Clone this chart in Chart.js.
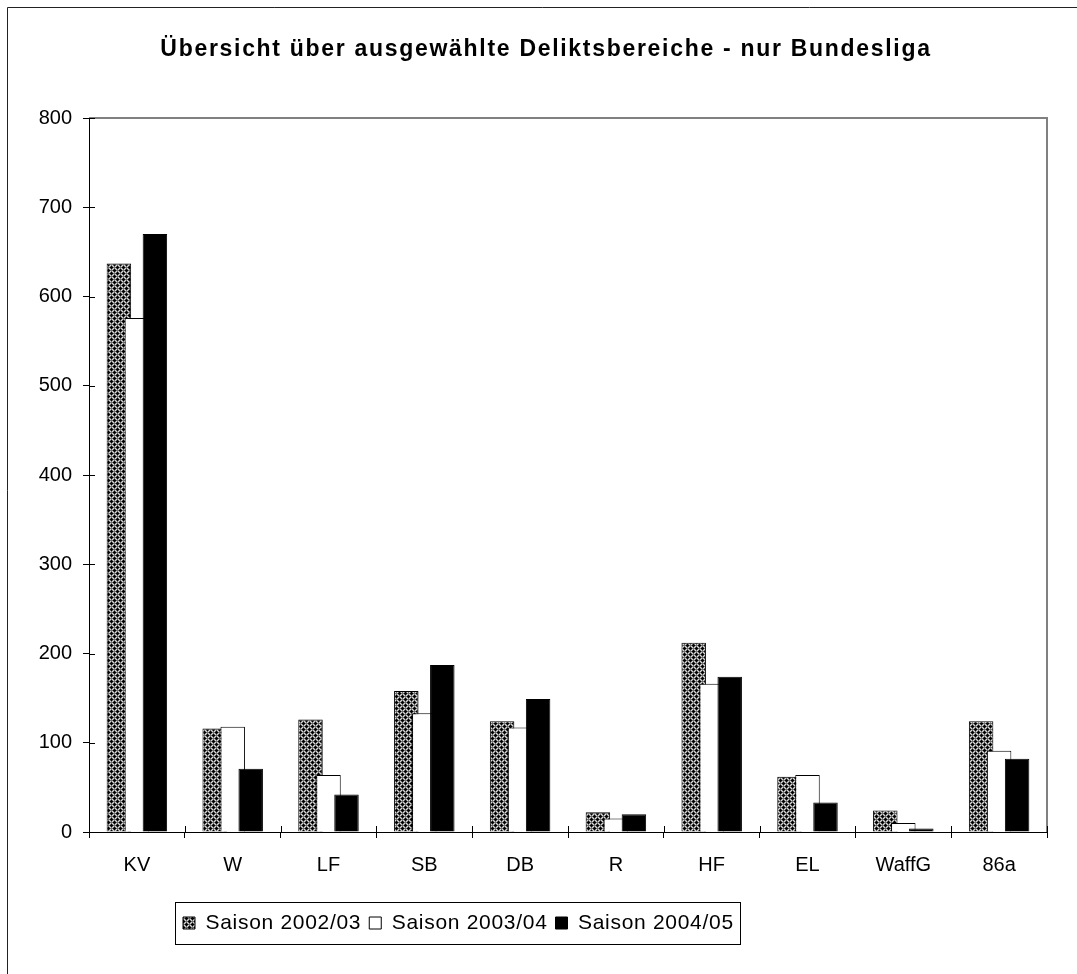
<!DOCTYPE html>
<html>
<head>
<meta charset="utf-8">
<script src="https://cdn.jsdelivr.net/npm/chart.js@4/dist/chart.umd.min.js"></script>
<style>
  html, body { margin: 0; padding: 0; background: #fff; }
  #wrap { width: 1077px; height: 974px; position: relative; }
</style>
</head>
<body>
<div id="wrap"><canvas id="c" width="1077" height="974"></canvas></div>
<script>
const categories = ['KV', 'W', 'LF', 'SB', 'DB', 'R', 'HF', 'EL', 'WaffG', '86a'];
const season0203 = [637, 116, 126, 158, 124, 22, 212, 62, 24, 124];
const season0304 = [576, 118, 64, 133, 117, 15, 166, 64, 10, 91];
const season0405 = [670, 71, 42, 187, 149, 20, 174, 33, 4, 82];
const seriesNames = ['Saison 2002/03', 'Saison 2003/04', 'Saison 2004/05'];
const yTicks = [0, 100, 200, 300, 400, 500, 600, 700, 800];
const chartTitle = 'Übersicht über ausgewählte Deliktsbereiche - nur Bundesliga';

const FONT = "'Liberation Sans', Arial, sans-serif";
Chart.defaults.color = '#000';
Chart.defaults.font.family = FONT;

function makePattern() {
  const c = document.createElement('canvas');
  c.width = 6; c.height = 6;
  const g = c.getContext('2d');
  g.fillStyle = '#6e6e6e'; g.fillRect(0, 0, 6, 6);
  g.fillStyle = '#000';
  [[0,0],[1,0],[5,0],[0,1],[0,5],[3,3],[2,3],[4,3],[3,2],[3,4]].forEach(p => g.fillRect(p[0], p[1], 1, 1));
  g.fillStyle = '#d8d8d8';
  [[1,2],[2,1],[4,1],[5,2],[5,4],[4,5],[2,5],[1,4]].forEach(p => g.fillRect(p[0], p[1], 1, 1));
  return g.createPattern(c, 'repeat');
}
const hatch = makePattern();

const framePlugin = {
  id: 'frame',
  beforeDraw(chart) {
    const ctx = chart.ctx;
    ctx.save();
    ctx.strokeStyle = '#222';
    ctx.lineWidth = 1;
    ctx.beginPath();
    ctx.moveTo(7.5, 974); ctx.lineTo(7.5, 7.5); ctx.lineTo(1077, 7.5);
    ctx.stroke();
    ctx.restore();
    const lg = chart.legend;
    if (lg) {
      const P = lg.options.labels.padding;
      lg.left = 183 - P;
      lg.right = lg.left + lg.width;
      lg.top = 923 - P - lg.options.labels.font.size / 2;
      lg.bottom = lg.top + lg.height;
    }
  },
  beforeDatasetsDraw(chart) {
    const metas = chart.getSortedVisibleDatasetMetas();
    for (const m of metas) m.controller.draw();
    return false;
  },
  afterDraw(chart) {
    const ctx = chart.ctx;
    const a = chart.chartArea;
    const xs = chart.scales.x, ys = chart.scales.y;
    ctx.save();
    ctx.strokeStyle = '#808080';
    ctx.lineWidth = 2;
    ctx.beginPath();
    ctx.moveTo(a.left, a.top); ctx.lineTo(a.right, a.top); ctx.lineTo(a.right, a.bottom);
    ctx.stroke();
    ctx.strokeStyle = '#000';
    ctx.lineWidth = 1;
    ctx.beginPath();
    for (const v of yTicks) {
      const y = Math.round(ys.getPixelForValue(v)) + 0.5;
      ctx.moveTo(a.left, y); ctx.lineTo(a.left + 6, y);
    }
    for (let i = 0; i <= categories.length; i++) {
      const x = Math.round(xs.getPixelForValue(i - 0.5)) + 0.5;
      ctx.moveTo(x, a.bottom); ctx.lineTo(x, a.bottom - 6);
    }
    ctx.stroke();
    ctx.beginPath();
    ctx.moveTo(Math.round(a.left) + 0.5, a.top); ctx.lineTo(Math.round(a.left) + 0.5, a.bottom);
    ctx.moveTo(a.left, Math.round(a.bottom) + 0.5); ctx.lineTo(a.right, Math.round(a.bottom) + 0.5);
    ctx.stroke();
    const lg = chart.legend;
    if (lg && lg.lineWidths) {
      const P = lg.options.labels.padding;
      const x0 = lg.left + P - 8;
      const x1 = lg.left + lg.lineWidths[0] + 6;
      ctx.strokeRect(Math.round(x0) + 0.5, 902.5, Math.round(x1 - x0), 42);
    }
    ctx.restore();
  }
};

const common = { borderColor: '#000', borderWidth: 1 };
const chart = new Chart(document.getElementById('c'), {
  type: 'bar',
  data: {
    labels: categories,
    datasets: [
      Object.assign({ label: seriesNames[0], data: season0203, backgroundColor: hatch }, common),
      Object.assign({ label: seriesNames[1], data: season0304, backgroundColor: '#fff' }, common),
      Object.assign({ label: seriesNames[2], data: season0405, backgroundColor: '#000' }, common)
    ]
  },
  options: {
    responsive: false,
    animation: false,
    devicePixelRatio: 1,
    categoryPercentage: 0.5637,
    barPercentage: 1.36,
    layout: { padding: { left: 15, right: 0, top: 0, bottom: 0 } },
    plugins: {
      title: {
        display: true,
        text: chartTitle,
        font: { family: FONT, size: 23, weight: 'bold', lineHeight: 1.2 },
        color: '#000',
        padding: { top: 36.2, bottom: 54.2 }
      },
      legend: {
        display: true,
        position: 'bottom',
        align: 'start',
        labels: {
          font: { family: FONT, size: 21 },
          color: '#000',
          boxWidth: 12,
          boxHeight: 12,
          padding: 8
        }
      },
      tooltip: { enabled: false }
    },
    scales: {
      x: {
        grid: { display: true, drawOnChartArea: false, drawTicks: true, tickLength: 6, color: '#000', offset: true },
        border: { display: true, color: '#000', width: 1 },
        ticks: { font: { family: FONT, size: 20 }, color: '#000', padding: 15, maxRotation: 0, autoSkip: false },
        afterFit(s) { s.height = 974 - 832 - (s.chart.legend ? s.chart.legend.height : 39); }
      },
      y: {
        min: 0, max: 800,
        afterBuildTicks(s) { s.ticks = yTicks.map(v => ({ value: v })); },
        grid: { display: true, drawOnChartArea: false, drawTicks: true, tickLength: 6, color: '#000' },
        border: { display: true, color: '#000', width: 1 },
        ticks: { font: { family: FONT, size: 20 }, color: '#000', padding: 11 },
        afterFit(s) { s.width = 74; }
      },
      yR: {
        position: 'right',
        display: true,
        grid: { display: false, drawTicks: false },
        border: { display: false },
        ticks: { display: false },
        afterFit(s) { s.width = 30; }
      }
    }
  },
  plugins: [framePlugin]
});

function withSpacing(obj, method, sp) {
  const orig = obj[method];
  obj[method] = function(...args) {
    const c = this.ctx;
    const prev = c.letterSpacing;
    c.letterSpacing = sp;
    try { return orig.apply(this, args); } finally { c.letterSpacing = prev; }
  };
}
if (chart.titleBlock) withSpacing(chart.titleBlock, 'draw', '1.7px');
if (chart.legend) {
  withSpacing(chart.legend, 'fit', '0.7px');
  withSpacing(chart.legend, 'draw', '0.7px');
}
chart.update();
</script>
</body>
</html>
